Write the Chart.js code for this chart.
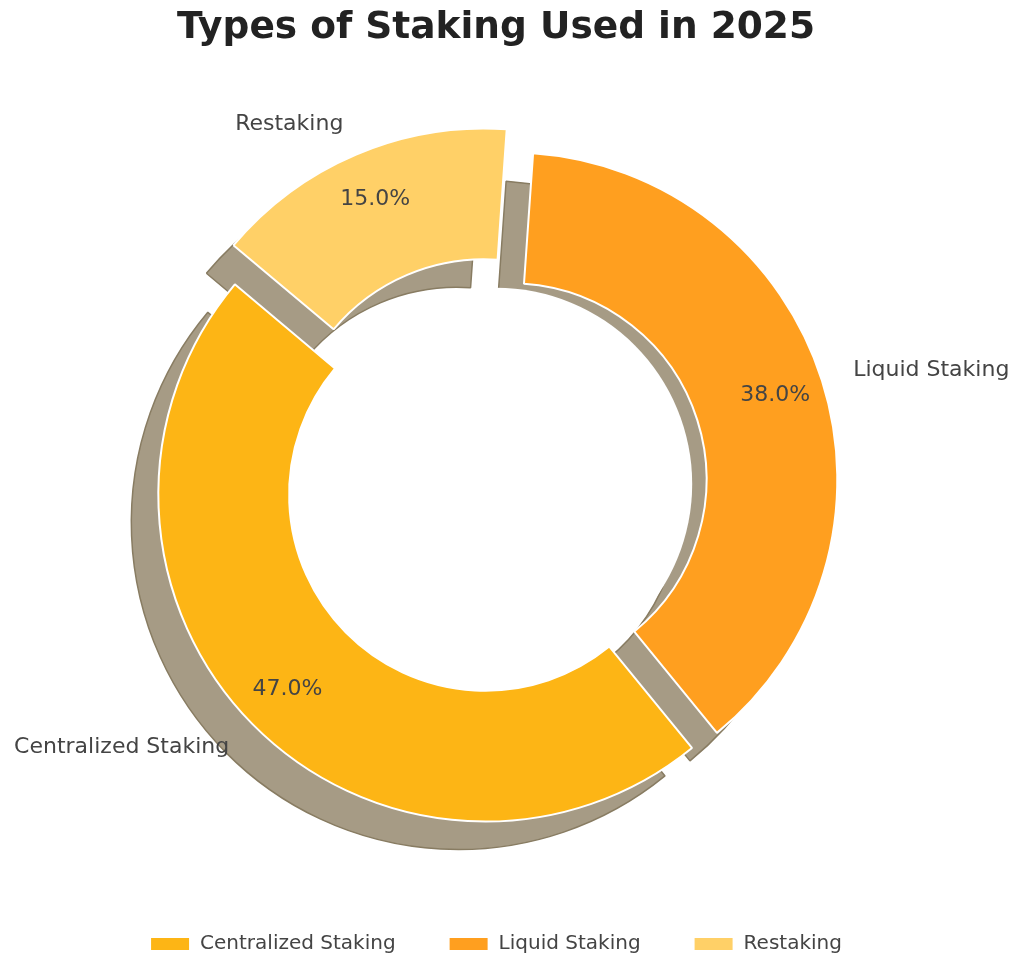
<!DOCTYPE html>
<html>
<head>
<meta charset="utf-8">
<script src="https://cdn.jsdelivr.net/npm/chart.js@4.4.1/dist/chart.umd.min.js"></script>
<style>
    html, body {margin: 0; padding: 0; background: #ffffff;}
    #stakingChart {display: block;}
</style>
</head>
<body>
<canvas id="stakingChart" width="1024" height="976"></canvas>
<script>
// Data
const categories = ['Centralized Staking', 'Liquid Staking', 'Restaking'];
const shares = [47.0, 38.0, 15.0];
const sliceColors = ['#FDB515', '#FF9F1F', '#FFD067'];

// Pie styling (matplotlib look: explode + offset shadow + white centre circle)
const explodePx = [15, 15, 31];
const shadowShift = {x: -27, y: 28};
const shadowFill = '#A69B85';
const shadowEdge = '#887C62';
const textColor = '#444444';

// chart.js draws clockwise, matplotlib counter-clockwise -> reorder for drawing
const drawOrder = [0, 2, 1];

document.addEventListener('DOMContentLoaded', function () {
    const canvas = document.getElementById('stakingChart');
    const total = shares.reduce((a, b) => a + b, 0);

    function styledArc(arc, opts) {
        const copy = Object.create(arc);
        copy.options = Object.assign({}, arc.options, opts);
        return copy;
    }

    // shadows, exploded wedges and text labels
    const pieDecor = {
        id: 'pieDecor',
        beforeDatasetsDraw(chart) {
            const ctx = chart.ctx;
            const arcs = chart.getDatasetMeta(0).data;

            const shift = arcs.map((arc, i) => {
                const mid = (arc.startAngle + arc.endAngle) / 2;
                const e = explodePx[drawOrder[i]];
                return {mid: mid, dx: Math.cos(mid) * e, dy: Math.sin(mid) * e};
            });

            // shadows first
            arcs.forEach((arc, i) => {
                ctx.save();
                ctx.translate(shift[i].dx + shadowShift.x, shift[i].dy + shadowShift.y);
                styledArc(arc, {backgroundColor: shadowFill, borderColor: shadowEdge, borderWidth: 1.5}).draw(ctx);
                ctx.restore();
            });

            // white centre circle (covers the shadows in the hole)
            const a0 = arcs[0];
            ctx.save();
            ctx.fillStyle = '#ffffff';
            ctx.beginPath();
            ctx.arc(a0.x, a0.y, a0.innerRadius, 0, Math.PI * 2);
            ctx.fill();
            ctx.restore();

            // wedges
            arcs.forEach((arc, i) => {
                ctx.save();
                ctx.translate(shift[i].dx, shift[i].dy);
                arc.draw(ctx);
                ctx.restore();
            });

            // labels and percentages
            ctx.save();
            ctx.fillStyle = textColor;
            ctx.textBaseline = 'middle';
            ctx.font = '22px "DejaVu Sans"';
            arcs.forEach((arc, i) => {
                const k = drawOrder[i];
                const cx = arc.x + shift[i].dx;
                const cy = arc.y + shift[i].dy;
                const c = Math.cos(shift[i].mid);
                const s = Math.sin(shift[i].mid);
                const r = arc.outerRadius;

                ctx.textAlign = c > 0 ? 'left' : 'right';
                ctx.fillText(categories[k], cx + c * r * 1.1, cy + s * r * 1.1);

                ctx.textAlign = 'center';
                const pct = (shares[k] / total * 100).toFixed(1) + '%';
                ctx.fillText(pct, cx + c * r * 0.85, cy + s * r * 0.85);
            });
            ctx.restore();
            return false;
        }
    };

    new Chart(canvas, {
        type: 'doughnut',
        data: {
            labels: drawOrder.map(i => categories[i]),
            datasets: [{
                    data: drawOrder.map(i => shares[i]),
                    backgroundColor: drawOrder.map(i => sliceColors[i]),
                    borderColor: '#ffffff',
                    borderWidth: 2,
                    radius: 327
                }]
        },
        options: {
            responsive: false,
            animation: false,
            rotation: 140.8,
            cutout: '60%',
            layout: {padding: {left: 0, right: 32, top: 0, bottom: 12}},
            plugins: {
                title: {
                    display: true,
                    text: 'Types of Staking Used in 2025',
                    color: '#222222',
                    font: {family: '"DejaVu Sans"', size: 37.5, weight: 'bold'},
                    padding: {top: 6, bottom: 36}
                },
                legend: {
                    position: 'bottom',
                    labels: {
                        color: textColor,
                        font: {family: '"DejaVu Sans"', size: 20},
                        boxWidth: 40,
                        boxHeight: 14,
                        padding: 53,
                        sort: (a, b) => drawOrder[a.index] - drawOrder[b.index]
                    }
                },
                tooltip: {enabled: false}
            }
        },
        plugins: [pieDecor]
    });
});
</script>
</body>
</html>
